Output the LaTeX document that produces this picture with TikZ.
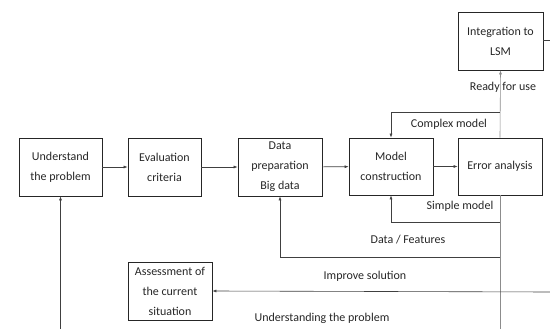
\documentclass[tikz,border=0pt]{standalone}
\usepackage{fontspec}
\setmainfont{Carlito}
\usetikzlibrary{arrows.meta}
\begin{document}
\begin{tikzpicture}[x=1pt,y=-1pt,
  box/.style={draw=black!85,line width=0.7pt,inner sep=0pt,align=center,
    font=\fontsize{12}{20}\selectfont,text=black!85},
  lbl/.style={inner sep=0pt,font=\fontsize{12}{14}\selectfont,text=black!85},
  conn/.style={draw=black!75,line width=0.6pt},
  arr/.style={conn,-{Latex[length=4pt,width=3pt]}},
  light/.style={draw=black!45,line width=0.6pt}]
\path[use as bounding box] (0,0) rectangle (550,329);
\node[box,minimum width=83pt,minimum height=58pt] (und) at (60.5,167) {Understand\\the problem};
\node[box,minimum width=73pt,minimum height=58pt] (eval) at (164.5,167) {Evaluation\\criteria};
\node[box,minimum width=84pt,minimum height=58pt] (data) at (280,167) {Data\\preparation\\Big data};
\node[box,minimum width=84pt,minimum height=57pt] (model) at (391,166.5) {Model\\construction};
\node[box,minimum width=84pt,minimum height=57pt] (err) at (500,166.5) {Error analysis};
\node[box,minimum width=85pt,minimum height=58pt] (integ) at (500.5,41) {Integration to\\LSM};
\node[box,minimum width=84pt,minimum height=58pt] (assess) at (170,291) {Assessment of\\the current\\situation};

\coordinate (cx) at (500,112);
\coordinate (sx) at (500,222);
\coordinate (dx) at (500,257);
\coordinate (bot) at (500,329);
\coordinate (ir) at (550,292);
\coordinate (er) at (550,40);
\coordinate (ub) at (60.5,329);

\draw[arr] (und) -- (eval);
\draw[arr] (eval) -- (data);
\draw[arr] (data) -- (model);
\draw[arr] (model) -- (err);

\draw[light,-{Latex[length=4pt,width=3pt]}] (err.north) -- (integ.south);
\draw[light] (err.south) -- (bot);
\draw[arr] (cx) -| (model.north);
\draw[arr] (sx) -| (model.south);
\draw[arr] (dx) -| (data.south);
\draw[arr] (ir) -- (assess.east);
\draw[conn] (integ.east |- er) -- (er);
\draw[arr] (ub) -- (und.south);

\node[lbl] (lready) at (503,87) {Ready for use};
\node[lbl] (lcomplex) at (449,124) {Complex model};
\node[lbl] (lsimple) at (460,206) {Simple model};
\node[lbl] (ldata) at (408,240) {Data / Features};
\node[lbl] (limprove) at (365,276) {Improve solution};
\node[lbl] (lunder) at (322,318) {Understanding the problem};
\end{tikzpicture}
\end{document}
